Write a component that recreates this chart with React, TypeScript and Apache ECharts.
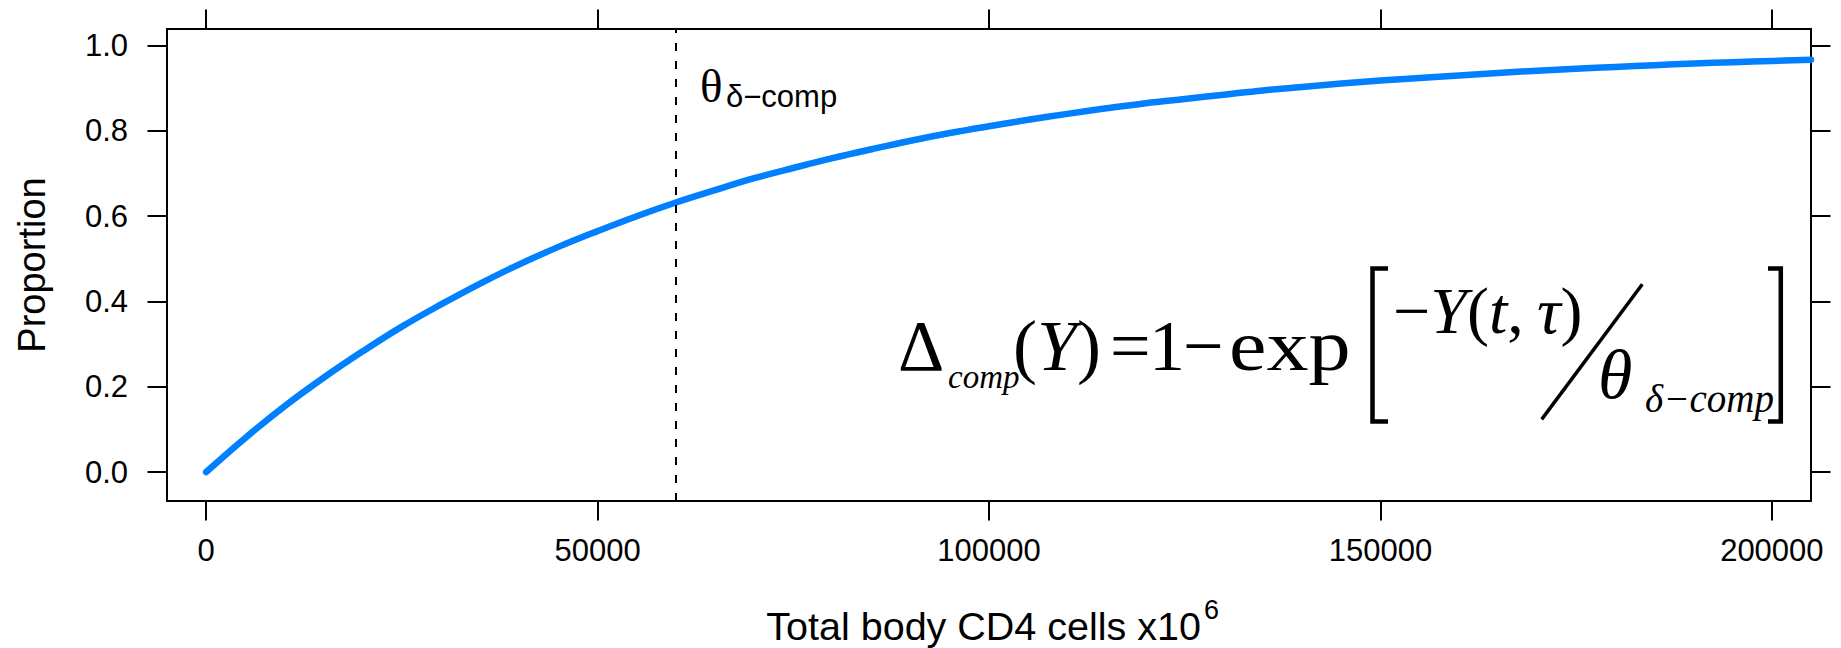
import React, { useEffect, useRef } from "react";
import * as echarts from "echarts";

// ---- data ----
const cd4Cells = [
  0, 5000, 10000, 15000, 20000, 25000, 30000, 35000, 40000, 45000, 50000, 55000, 60000, 65000, 70000, 75000,
  80000, 85000, 90000, 95000, 100000, 105000, 110000, 115000, 120000, 125000, 130000, 135000, 140000, 145000,
  150000, 155000, 160000, 165000, 170000, 175000, 180000, 185000, 190000, 195000, 200000, 205000,
];
const proportion = [
  0, 0.08, 0.154, 0.221, 0.283, 0.341, 0.393, 0.442, 0.487, 0.528, 0.565, 0.6, 0.632, 0.661, 0.689, 0.713,
  0.736, 0.757, 0.777, 0.795, 0.811, 0.826, 0.84, 0.853, 0.865, 0.875, 0.885, 0.895, 0.903, 0.911,
  0.918, 0.924, 0.93, 0.936, 0.941, 0.946, 0.95, 0.954, 0.958, 0.961, 0.964, 0.967,
];
const xTickValues = [0, 50000, 100000, 150000, 200000];
const yTickValues = [0, 0.2, 0.4, 0.6, 0.8, 1.0];
const thetaMarker = [60000];
const xRange = [-5000, 205000];
const yRange = [-0.068, 1.039];

const SANS = "'Liberation Sans', Arial, Helvetica, sans-serif";
const SERIF = "'Liberation Serif', 'Times New Roman', serif";
const SANS_C = 0.3465;
const SERIF_C = 0.3375;

function txt(text: string, x: number, baseline: number, size: number, family: string, italic = false, extra: any = {}, el: any = {}) {
  const c = family === SERIF ? SERIF_C : SANS_C;
  return {
    type: "text",
    x,
    y: baseline - c * size,
    silent: true,
    ...el,
    style: {
      text,
      fontSize: size,
      fontFamily: family,
      fontStyle: italic ? "italic" : "normal",
      fill: "#000",
      align: "left",
      verticalAlign: "middle",
      ...extra,
    },
  };
}

function richMath(parts: [string, boolean][], x: number, baseline: number, size: number) {
  const text = parts.map(([s, it]) => `{${it ? "i" : "u"}|${s}}`).join("");
  return {
    type: "text",
    x,
    y: baseline - SERIF_C * size,
    silent: true,
    style: {
      text,
      align: "left",
      verticalAlign: "middle",
      rich: {
        u: { fontSize: size, fontFamily: SERIF, fontStyle: "normal", fill: "#000" },
        i: { fontSize: size, fontFamily: SERIF, fontStyle: "italic", fill: "#000" },
      },
    },
  };
}

const tickStyle = { show: true, inside: false, length: 19.5, lineStyle: { color: "#000", width: 2 } };
const labelBase = { color: "#000", fontSize: 31, fontFamily: SANS };

export default function App() {
  const ref = useRef<HTMLDivElement>(null);
  useEffect(() => {
    document.body.style.margin = "0";
    const chart = echarts.init(ref.current!, null, { renderer: "svg" });
    const option: any = {
      animation: false,
      backgroundColor: "#fff",
      grid: {
        left: 167,
        top: 29,
        right: 30,
        bottom: 147,
        show: true,
        borderColor: "#000",
        borderWidth: 2,
        backgroundColor: "transparent",
      },
      xAxis: [
        {
          type: "value",
          position: "bottom",
          min: xRange[0],
          max: xRange[1],
          axisLine: { show: false, onZero: false },
          axisTick: { ...tickStyle, customValues: xTickValues },
          axisLabel: {
            ...labelBase,
            margin: 34,
            customValues: xTickValues,
            formatter: (v: number) => String(v),
          },
          splitLine: { show: false },
        },
        {
          type: "value",
          position: "top",
          min: xRange[0],
          max: xRange[1],
          axisLine: { show: false, onZero: false },
          axisTick: { ...tickStyle, customValues: xTickValues },
          axisLabel: { show: false, customValues: xTickValues },
          splitLine: { show: false },
        },
      ],
      yAxis: [
        {
          type: "value",
          position: "left",
          min: yRange[0],
          max: yRange[1],
          axisLine: { show: false, onZero: false },
          axisTick: { ...tickStyle, customValues: yTickValues },
          axisLabel: {
            ...labelBase,
            margin: 39,
            customValues: yTickValues,
            formatter: (v: number) => v.toFixed(1),
          },
          splitLine: { show: false },
        },
        {
          type: "value",
          position: "right",
          min: yRange[0],
          max: yRange[1],
          axisLine: { show: false, onZero: false },
          axisTick: { ...tickStyle, customValues: yTickValues },
          axisLabel: { show: false, customValues: yTickValues },
          splitLine: { show: false },
        },
      ],
      series: [
        {
          type: "line",
          xAxisIndex: 0,
          yAxisIndex: 0,
          data: cd4Cells.map((x, i) => [x, proportion[i]]),
          showSymbol: false,
          symbol: "none",
          smooth: 0.4,
          lineStyle: { color: "#0080ff", width: 6.5, cap: "round", join: "round" },
          z: 3,
          markLine: {
            silent: true,
            symbol: ["none", "none"],
            label: { show: false },
            lineStyle: { color: "#000", width: 2, type: [8, 10] },
            data: [
              [
                { coord: [thetaMarker[0], yRange[0]] },
                { coord: [thetaMarker[0], yRange[1]] },
              ],
            ],
          },
        },
      ],
      graphic: [
        // axis titles
        {
          type: "text",
          x: 32,
          y: 265,
          rotation: Math.PI / 2,
          silent: true,
          style: { text: "Proportion", fontSize: 38, fontFamily: SANS, fill: "#000", align: "center", verticalAlign: "middle" },
        },
        txt("Total body CD4 cells x10", 1201, 640, 39.5, SANS, false, { align: "right" }),
        txt("6", 1204, 619, 27, SANS),
        // theta label near the dashed line
        txt("θ", 700, 102, 47, SERIF),
        txt("δ−comp", 726, 107, 31, SANS),
        // formula
        txt("Δ", 898, 370, 72, SERIF),
        txt("comp", 948, 388, 33, SERIF, true),
        richMath([["(", false], ["Y", true], [")", false]], 1013, 370, 72),
        txt("=", 1110, 370, 72, SERIF),
        txt("1", 1149, 370, 72, SERIF),
        txt("−", 1183, 370, 72, SERIF),
        txt("exp", 1229, 370, 72, SERIF, false, {}, { scaleX: 1.17 }),
        {
          type: "polyline",
          silent: true,
          shape: { points: [[1388, 268.5], [1372.5, 268.5], [1372.5, 421.5], [1388, 421.5]] },
          style: { stroke: "#000", lineWidth: 4.5, fill: null },
        },
        richMath([["−", false], ["Y", true], ["(", false], ["t", true], [",\u2009", false], ["τ", true], [")", false]], 1393, 332.6, 66),
        {
          type: "line",
          silent: true,
          shape: { x1: 1541.7, y1: 419.4, x2: 1642.3, y2: 284.3 },
          style: { stroke: "#000", lineWidth: 3.5 },
        },
        txt("θ", 1598, 398, 70, SERIF, true),
        txt("δ−comp", 1645, 412, 39, SERIF, true),
        {
          type: "polyline",
          silent: true,
          shape: { points: [[1768, 268.5], [1780.8, 268.5], [1780.8, 421.5], [1768, 421.5]] },
          style: { stroke: "#000", lineWidth: 4.5, fill: null },
        },
      ],
    };
    chart.setOption(option);
    return () => chart.dispose();
  }, []);
  return (
    <div
      ref={ref}
      style={{ position: "absolute", left: 0, top: 0, width: 1841, height: 648, background: "#fff" }}
    />
  );
}
